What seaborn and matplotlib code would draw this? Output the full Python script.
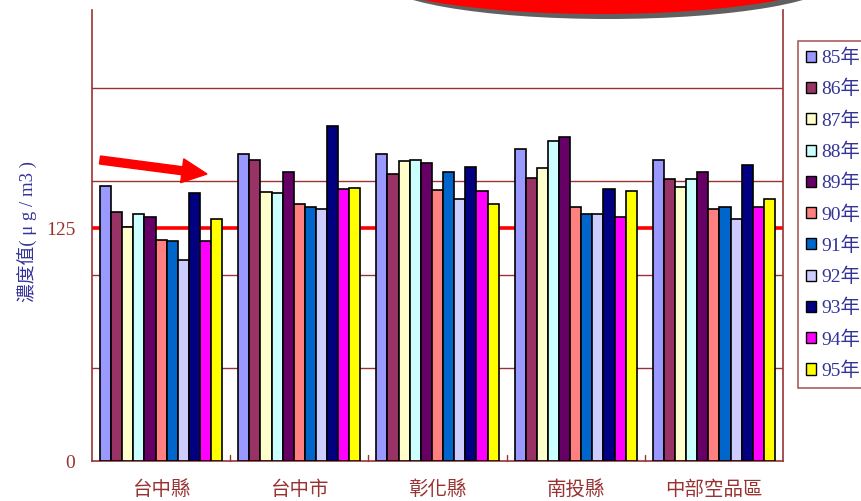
import matplotlib
matplotlib.use("Agg")
import matplotlib.pyplot as plt
import matplotlib.patches as mpatches
import seaborn as sns
import pandas as pd

# Annual PM10 concentration by area, years 85 to 95 (ROC calendar)
regions = ["台中縣", "台中市", "彰化縣", "南投縣", "中部空品區"]
years = ["85年", "86年", "87年", "88年", "89年", "90年", "91年", "92年", "93年", "94年", "95年"]
values_taichung_county = [147.5, 133.4, 125.7, 132.7, 130.9, 118.7, 117.9, 107.7, 143.8, 117.9, 129.7]
values_taichung_city = [164.9, 161.5, 144.3, 143.8, 155.2, 137.7, 136.4, 135.4, 179.7, 146.1, 146.7]
values_changhua = [164.9, 153.8, 160.8, 161.5, 159.7, 145.6, 155.2, 140.4, 157.7, 145.0, 137.7]
values_nantou = [167.4, 151.8, 157.0, 171.8, 173.8, 136.1, 132.7, 132.7, 146.1, 130.9, 145.0]
values_central = [161.5, 151.1, 146.8, 151.3, 154.9, 135.4, 136.1, 129.6, 159.0, 136.1, 140.4]
standard_value = 125
grid_levels = [50, 100, 150, 200]
ytick_values = [0, 125]

year_colors = ["#9999FF", "#993366", "#FFFFCC", "#CCFFFF", "#660066", "#FF8080",
               "#0066CC", "#CCCCFF", "#000080", "#FF00FF", "#FFFF00"]

series = [values_taichung_county, values_taichung_city, values_changhua,
          values_nantou, values_central]
rows = []
for region, vals in zip(regions, series):
    for year, v in zip(years, vals):
        rows.append({"region": region, "year": year, "value": v})
df = pd.DataFrame(rows)

sns.set_theme(style="white")
serif_cjk = ["Liberation Serif", "Noto Sans CJK TC"]
plt.rcParams["font.family"] = serif_cjk

axis_red = "#993333"
text_blue = "#333399"

fig = plt.figure(figsize=(8.61, 5.01), dpi=100)
ax = fig.add_axes([92 / 861, 40 / 501, 691 / 861, 451 / 501])

sns.barplot(data=df, x="region", y="value", hue="year", order=regions,
            hue_order=years, palette=year_colors, saturation=1, width=0.885,
            gap=0, edgecolor="black", linewidth=1.2, legend=False, ax=ax,
            zorder=3, errorbar=None)

for g in grid_levels:
    ax.axhline(g, color=axis_red, linewidth=1.0, zorder=1)
ax.axhline(standard_value, color="#FF0000", linewidth=2.6, zorder=2)

ax.set_ylim(0, 242)
ax.set_xlim(-0.5, len(regions) - 0.5)
ax.set_yticks(ytick_values)
ax.set_yticklabels([str(v) for v in ytick_values], color=axis_red, fontsize=14)
ax.tick_params(axis="y", length=0, pad=12)
ax.set_xticks(range(len(regions)))
ax.set_xticklabels(regions, color=axis_red, fontsize=14)
ax.tick_params(axis="x", length=0, pad=14)
for b in range(len(regions) - 1):
    ax.plot([b + 0.5, b + 0.5], [0, 3], color=axis_red, linewidth=1.0,
            zorder=4, clip_on=False)
ax.set_xlabel("")
ax.set_ylabel("")

for side in ["left", "bottom", "right"]:
    ax.spines[side].set_color(axis_red)
    ax.spines[side].set_linewidth(1.2)
ax.spines["top"].set_visible(False)

fig.text(28 / 861, 1 - 232 / 501, "濃度值( μ g / m3 )", rotation=90,
         ha="center", va="center", color=text_blue, fontsize=13.5,
         family=serif_cjk)

handles = [mpatches.Patch(facecolor=c, edgecolor="black", linewidth=1.0)
           for c in year_colors]
leg = fig.legend(handles, years, loc="upper left",
                 bbox_to_anchor=(798 / 861, 1 - 41 / 501),
                 bbox_transform=fig.transFigure, frameon=True, fancybox=False,
                 fontsize=14, handlelength=0.5, handleheight=0.5,
                 handletextpad=0.3, labelspacing=0.66, borderpad=0.4,
                 borderaxespad=0)
leg.get_frame().set_edgecolor(axis_red)
leg.get_frame().set_linewidth(1.2)
for t in leg.get_texts():
    t.set_color(text_blue)

# highlight arrow pointing toward the Taichung City bars
arrow = mpatches.FancyArrow(1.00, 3.41, 1.07, -0.14, width=0.08,
                            head_width=0.24, head_length=0.25,
                            length_includes_head=True, color="#FF0000",
                            transform=fig.dpi_scale_trans)
fig.add_artist(arrow)

# red callout ellipse at the top edge, with its grey shadow
shadow = mpatches.Ellipse((6.08, 5.22), 4.58, 0.8, facecolor="#606060",
                          edgecolor="none", transform=fig.dpi_scale_trans)
callout = mpatches.Ellipse((6.01, 5.27), 4.68, 0.8, facecolor="#FF0000",
                           edgecolor="none", transform=fig.dpi_scale_trans)
fig.add_artist(shadow)
fig.add_artist(callout)

fig.savefig("out.png", dpi=100)
